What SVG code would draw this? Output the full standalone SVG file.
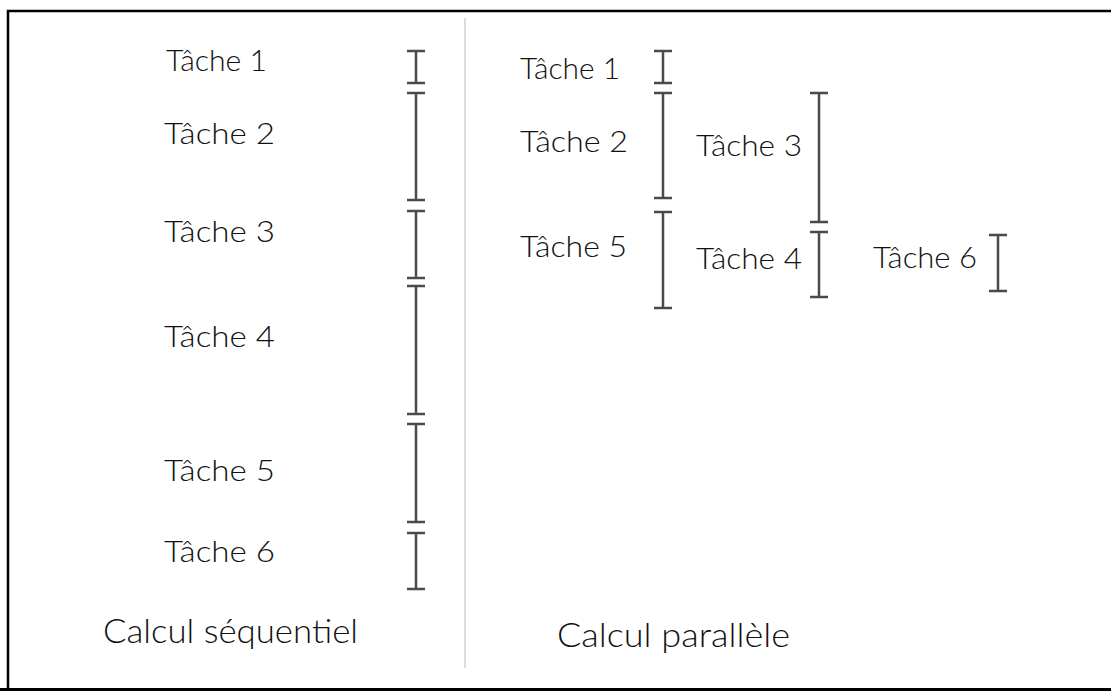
<svg xmlns="http://www.w3.org/2000/svg" width="1111" height="691" viewBox="0 0 1111 691">
  <style>
    .lbl { font-family: Lato, "Liberation Sans", Arial, sans-serif; font-weight: 300; font-size: 30px; fill: #111; }
    .cap { font-family: Lato, "Liberation Sans", Arial, sans-serif; font-weight: 300; font-size: 33px; fill: #111; }
    .bar { stroke: #4a4a4a; stroke-width: 2.5; fill: none; }
  </style>

  <rect x="0" y="0" width="1111" height="691" fill="#ffffff"/>
  <!-- frame -->
  <path d="M8,690 L8,11 L1112,11" fill="none" stroke="#000" stroke-width="2.5"/>
  <line x1="0" y1="689.5" x2="1111" y2="689.5" stroke="#000" stroke-width="3"/>
  <!-- separator between the two schedules -->
  <line x1="465" y1="18" x2="465" y2="668" stroke="#d2d2d2" stroke-width="1.5"/>

  <!-- time spans: vertical bar with end ticks -->
  <g id="connectors">
    <g id="seq-spans">
      <path class="bar" d="M416,51 V83 M407,51 H425 M407,83 H425"/>
      <path class="bar" d="M416,93 V200 M407,93 H425 M407,200 H425"/>
      <path class="bar" d="M416,211 V278 M407,211 H425 M407,278 H425"/>
      <path class="bar" d="M416,286 V414 M407,286 H425 M407,414 H425"/>
      <path class="bar" d="M416,424 V522 M407,424 H425 M407,522 H425"/>
      <path class="bar" d="M416,533 V589 M407,533 H425 M407,589 H425"/>
    </g>
    <g id="par-spans">
      <path class="bar" d="M663,51 V83 M654,51 H672 M654,83 H672"/>
      <path class="bar" d="M663,93 V198 M654,93 H672 M654,198 H672"/>
      <path class="bar" d="M663,212 V308 M654,212 H672 M654,308 H672"/>
      <path class="bar" d="M819,93 V222 M810,93 H828 M810,222 H828"/>
      <path class="bar" d="M819,232 V297 M810,232 H828 M810,297 H828"/>
      <path class="bar" d="M998,235 V291 M989,235 H1007 M989,291 H1007"/>
    </g>
  </g>

  <!-- sequential labels -->
  <g id="seq-t1"><text class="lbl" x="166" y="71" textLength="101" lengthAdjust="spacingAndGlyphs">Tâche 1</text></g>
  <g id="seq-t2"><text class="lbl" x="164" y="144" textLength="111" lengthAdjust="spacingAndGlyphs">Tâche 2</text></g>
  <g id="seq-t3"><text class="lbl" x="164" y="242" textLength="111" lengthAdjust="spacingAndGlyphs">Tâche 3</text></g>
  <g id="seq-t4"><text class="lbl" x="164" y="347" textLength="111" lengthAdjust="spacingAndGlyphs">Tâche 4</text></g>
  <g id="seq-t5"><text class="lbl" x="164" y="481" textLength="111" lengthAdjust="spacingAndGlyphs">Tâche 5</text></g>
  <g id="seq-t6"><text class="lbl" x="164" y="562" textLength="111" lengthAdjust="spacingAndGlyphs">Tâche 6</text></g>
  <g id="seq-title"><text class="cap" x="103" y="643" textLength="255" lengthAdjust="spacingAndGlyphs">Calcul séquentiel</text></g>

  <!-- parallel labels -->
  <g id="par-t1"><text class="lbl" x="520" y="79" textLength="100" lengthAdjust="spacingAndGlyphs">Tâche 1</text></g>
  <g id="par-t2"><text class="lbl" x="520" y="152" textLength="108" lengthAdjust="spacingAndGlyphs">Tâche 2</text></g>
  <g id="par-t5"><text class="lbl" x="520" y="257" textLength="107" lengthAdjust="spacingAndGlyphs">Tâche 5</text></g>
  <g id="par-t3"><text class="lbl" x="696" y="156" textLength="106" lengthAdjust="spacingAndGlyphs">Tâche 3</text></g>
  <g id="par-t4"><text class="lbl" x="696" y="269" textLength="106" lengthAdjust="spacingAndGlyphs">Tâche 4</text></g>
  <g id="par-t6"><text class="lbl" x="873" y="268" textLength="104" lengthAdjust="spacingAndGlyphs">Tâche 6</text></g>
  <g id="par-title"><text class="cap" x="557" y="647" textLength="233" lengthAdjust="spacingAndGlyphs">Calcul parallèle</text></g>
</svg>
